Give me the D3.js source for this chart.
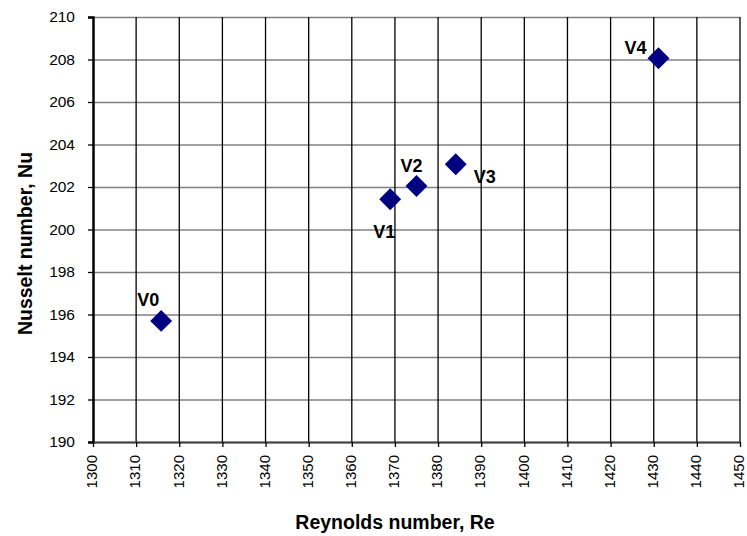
<!DOCTYPE html>
<html><head><meta charset="utf-8">
<script src="https://cdn.jsdelivr.net/npm/d3@7"></script>
<style>body{margin:0;background:#fff}svg{display:block}text{font-family:Arial,"Liberation Sans",sans-serif}</style>
</head><body>
<svg id="c" width="747" height="536"></svg>
<script>
const labels = ["V0","V1","V2","V3","V4"];
const reynolds = [1315.8, 1368.9, 1375.0, 1384.1, 1431.1];
const nusselt = [195.7, 201.42, 202.05, 203.07, 208.06];
const xTicks = [1300,1310,1320,1330,1340,1350,1360,1370,1380,1390,1400,1410,1420,1430,1440,1450];
const yTicks = [190,192,194,196,198,200,202,204,206,208,210];
const labelOffsets = [[-13,-21],[-6,32],[-5,-20.5],[29,12],[-23,-11]];

const svg = d3.select("#c");
const L=93, R=740, T=17, B=442;
const x = d3.scaleLinear().domain([1300,1450]).range([L,R]);
const y = d3.scaleLinear().domain([190,210]).range([B,T]);
const FF = "Arial, Liberation Sans, sans-serif";

// grid
svg.append("g").selectAll("line").data(yTicks).join("line")
  .attr("x1",L).attr("x2",R).attr("y1",d=>y(d)+0.5).attr("y2",d=>y(d)+0.5)
  .attr("stroke","#808080").attr("stroke-width",1.3);
svg.append("g").selectAll("line").data(xTicks.slice(1)).join("line")
  .attr("y1",T).attr("y2",B).attr("x1",d=>x(d)).attr("x2",d=>x(d))
  .attr("stroke","#000").attr("stroke-width",1.3);

// axes
const ya = svg.append("g").attr("transform",`translate(${L},0)`)
  .call(d3.axisLeft(y).tickValues(yTicks).tickSize(5).tickPadding(13).tickFormat(d3.format("d")));
ya.select(".domain").attr("stroke","#000").attr("stroke-width",2.5);
ya.selectAll(".tick line").attr("stroke","#000").attr("stroke-width",1.3);
ya.selectAll("text").attr("font-size",15.5).attr("fill","#000").attr("font-family",FF);

const xa = svg.append("g").attr("transform",`translate(0,${B})`)
  .call(d3.axisBottom(x).tickValues(xTicks).tickSize(5).tickSizeOuter(0).tickFormat(d3.format("d")));
xa.select(".domain").attr("stroke","#404040").attr("stroke-width",2);
xa.selectAll(".tick line").attr("stroke","#000").attr("stroke-width",1.3);
xa.selectAll("text").attr("font-size",15).attr("fill","#000").attr("font-family",FF)
  .attr("transform","rotate(-90)").attr("text-anchor","end").attr("dy","0.25em").attr("x",-13).attr("y",0);

// markers
const diamond = d3.symbol().type(d3.symbolSquare).size(240);
svg.append("g").selectAll("path").data(labels).join("path")
  .attr("d",diamond)
  .attr("transform",(d,i)=>`translate(${x(reynolds[i])},${y(nusselt[i])}) rotate(45)`)
  .attr("fill","#000080");

svg.append("g").selectAll("text").data(labels).join("text")
  .attr("x",(d,i)=>x(reynolds[i])+labelOffsets[i][0])
  .attr("y",(d,i)=>y(nusselt[i])+labelOffsets[i][1])
  .attr("text-anchor","middle").attr("dy","0.35em")
  .attr("font-size",18).attr("font-weight","bold").text(d=>d);

// titles
svg.append("text").attr("x",395).attr("y",529).attr("text-anchor","middle")
  .attr("font-size",19.5).attr("font-weight","bold").text("Reynolds number, Re");
svg.append("text").attr("transform",`translate(32,243.5) rotate(-90)`).attr("text-anchor","middle")
  .attr("font-size",19.5).attr("font-weight","bold").text("Nusselt number, Nu");
</script>
</body></html>
